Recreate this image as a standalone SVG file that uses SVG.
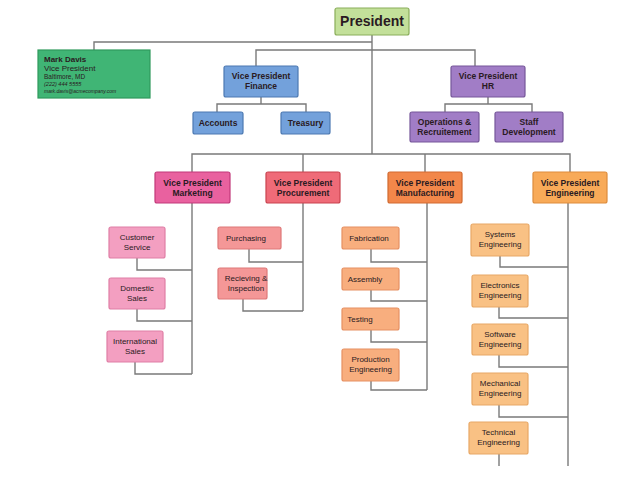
<svg xmlns="http://www.w3.org/2000/svg" width="638" height="479" viewBox="0 0 638 479">
<style>
text{font-family:"Liberation Sans",Arial,sans-serif;text-anchor:middle;fill:#2a1a22}
.b{font-weight:bold;font-size:8.5px}
.s{font-size:8px}
rect{stroke-width:1.2}
.ln{fill:none;stroke:#7a7a7a;stroke-width:1.4}
.pres{fill:#c3e09a;stroke:#8aad5a}
.md{fill:#40b575;stroke:#2f9a5c}
.fin{fill:#73a1db;stroke:#4c79b2}
.hr{fill:#a17dc6;stroke:#76579a}
.mkt{fill:#e9619f;stroke:#c2397a}
.pro{fill:#ef6b78;stroke:#c9434f}
.man{fill:#f2874a;stroke:#d16a30}
.eng{fill:#f8aa58;stroke:#dd8c3c}
.mktc{fill:#f39fc1;stroke:#e07fa6}
.proc{fill:#f49797;stroke:#de7878}
.manc{fill:#f8ae7e;stroke:#e69062}
.engc{fill:#f9c184;stroke:#e8a866}
</style>
<rect width="638" height="479" fill="#ffffff"/>
<g id="connectors" class="ln">
<path d="M372,35 V154"/>
<path d="M372,42 H94 V50"/>
<path d="M256,66 V50 H475 V66"/>
<path d="M261,97 V104 M217,112 V104 H306 V112"/>
<path d="M488,97 V104 M445,112 V104 H532 V112"/>
<path d="M192,172 V154 H570 V172 M303,154 V172 M425,154 V172"/>
<path d="M192,203 V374 M137,258 V270 H192 M137,309 V321 H192 M135,362 V374 H192"/>
<path d="M303,203 V311 M249,249 V262 H303 M243,299 V311 H303"/>
<path d="M427,203 V390 M371,249 V262 H427 M371,290 V301 H427 M371,330 V342 H427 M371,381 V390 H427"/>
<path d="M568,203 V466 M500,256 V267 H568 M499,307 V318 H568 M499,355 V367 H568 M499,405 V417 H568 M499,454 V466"/>
</g>
<g id="president"><rect class="pres" x="335" y="8" width="74" height="27" rx="2"/><text x="372" y="26" style="font-weight:bold;font-size:14px">President</text></g>
<g id="mark-davis"><rect class="md" x="38" y="50" width="112" height="48"/>
<text x="44" y="62" style="text-anchor:start;font-weight:bold;font-size:8px">Mark Davis</text>
<text x="44" y="71" style="text-anchor:start;font-size:8px">Vice President</text>
<text x="44" y="79" style="text-anchor:start;font-size:6.5px">Baltimore, MD</text>
<text x="44" y="86" style="text-anchor:start;font-size:5.5px;font-style:italic">(222) 444 5555</text>
<text x="44" y="93" style="text-anchor:start;font-size:5px;font-style:italic">mark.davis@acmecompany.com</text></g>
<g id="vp-finance"><rect class="fin" x="224" y="66" width="74" height="31" rx="2"/><text class="b" x="261" y="79">Vice President</text><text class="b" x="261" y="89">Finance</text></g>
<g id="accounts"><rect class="fin" x="193" y="112" width="50" height="22" rx="2"/><text class="b" x="218" y="126">Accounts</text></g>
<g id="treasury"><rect class="fin" x="281" y="112" width="49" height="22" rx="2"/><text class="b" x="305.500" y="126">Treasury</text></g>
<g id="vp-hr"><rect class="hr" x="451" y="66" width="74" height="31" rx="2"/><text class="b" x="488" y="79">Vice President</text><text class="b" x="488" y="89">HR</text></g>
<g id="operations"><rect class="hr" x="410" y="112" width="69" height="30" rx="2"/><text class="b" x="444.500" y="125">Operations &amp;</text><text class="b" x="444.500" y="135">Recruitement</text></g>
<g id="staff"><rect class="hr" x="495" y="112" width="68" height="30" rx="2"/><text class="b" x="529" y="125">Staff</text><text class="b" x="529" y="135">Development</text></g>
<g id="vp-marketing"><rect class="mkt" x="155" y="172" width="75" height="31" rx="2"/><text class="b" x="192.500" y="186">Vice President</text><text class="b" x="192.500" y="196">Marketing</text></g>
<g id="vp-procurement"><rect class="pro" x="266" y="172" width="74" height="31" rx="2"/><text class="b" x="303" y="186">Vice President</text><text class="b" x="303" y="196">Procurement</text></g>
<g id="vp-manufacturing"><rect class="man" x="388" y="172" width="74" height="31" rx="2"/><text class="b" x="425" y="186">Vice President</text><text class="b" x="425" y="196">Manufacturing</text></g>
<g id="vp-engineering"><rect class="eng" x="533" y="172" width="74" height="31" rx="2"/><text class="b" x="570" y="186">Vice President</text><text class="b" x="570" y="196">Engineering</text></g>
<g id="customer-service"><rect class="mktc" x="109" y="227" width="56" height="31" rx="2"/><text class="s" x="137" y="240">Customer</text><text class="s" x="137" y="250">Service</text></g>
<g id="domestic-sales"><rect class="mktc" x="109" y="278" width="56" height="31" rx="2"/><text class="s" x="137" y="291">Domestic</text><text class="s" x="137" y="301">Sales</text></g>
<g id="international-sales"><rect class="mktc" x="107" y="331" width="56" height="31" rx="2"/><text class="s" x="135" y="344">International</text><text class="s" x="135" y="354">Sales</text></g>
<g id="purchasing"><rect class="proc" x="218" y="227" width="63" height="22" rx="2"/><text class="s" x="246" y="241">Purchasing</text></g>
<g id="receiving"><rect class="proc" x="218" y="268" width="49" height="31" rx="2"/><text class="s" x="246" y="281">Recieving &amp;</text><text class="s" x="246" y="291">Inspection</text></g>
<g id="fabrication"><rect class="manc" x="342" y="227" width="57" height="22" rx="2"/><text class="s" x="369" y="241">Fabrication</text></g>
<g id="assembly"><rect class="manc" x="342" y="268" width="57" height="22" rx="2"/><text class="s" x="365" y="282">Assembly</text></g>
<g id="testing"><rect class="manc" x="342" y="308" width="57" height="22" rx="2"/><text class="s" x="360" y="322">Testing</text></g>
<g id="production-engineering"><rect class="manc" x="342" y="349" width="57" height="32" rx="2"/><text class="s" x="370.500" y="362">Production</text><text class="s" x="370.500" y="372">Engineering</text></g>
<g id="systems-engineering"><rect class="engc" x="471" y="224" width="58" height="32" rx="2"/><text class="s" x="500" y="237">Systems</text><text class="s" x="500" y="247">Engineering</text></g>
<g id="electronics-engineering"><rect class="engc" x="472" y="275" width="56" height="32" rx="2"/><text class="s" x="500" y="288">Electronics</text><text class="s" x="500" y="298">Engineering</text></g>
<g id="software-engineering"><rect class="engc" x="472" y="324" width="56" height="31" rx="2"/><text class="s" x="500" y="337">Software</text><text class="s" x="500" y="347">Engineering</text></g>
<g id="mechanical-engineering"><rect class="engc" x="472" y="373" width="56" height="32" rx="2"/><text class="s" x="500" y="386">Mechanical</text><text class="s" x="500" y="396">Engineering</text></g>
<g id="technical-engineering"><rect class="engc" x="469" y="422" width="59" height="32" rx="2"/><text class="s" x="498.500" y="435">Technical</text><text class="s" x="498.500" y="445">Engineering</text></g>
</svg>
